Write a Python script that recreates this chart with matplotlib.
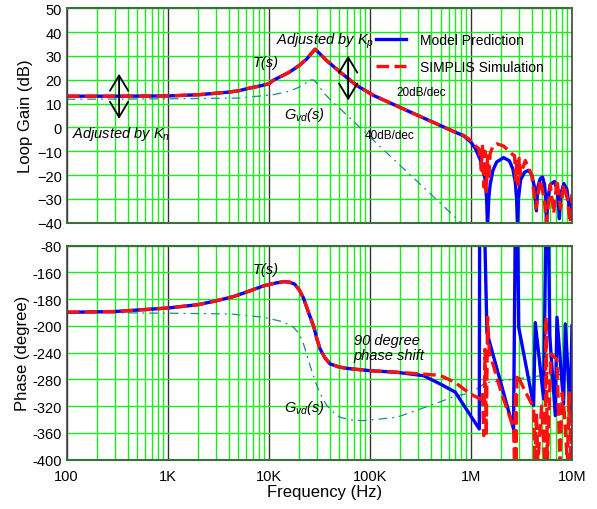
import numpy as np
import matplotlib
matplotlib.use("Agg")
import matplotlib.pyplot as plt
from matplotlib.ticker import LogLocator, FixedLocator, NullFormatter

plt.rcParams["font.family"] = ["Liberation Sans", "DejaVu Sans"]
plt.rcParams["mathtext.fontset"] = "custom"
plt.rcParams["mathtext.rm"] = "Liberation Sans"
plt.rcParams["mathtext.it"] = "Liberation Sans:italic"

# ---- loop gain magnitude (dB) ----
freq_model_mag = [100, 300, 1e3, 2e3, 4e3, 5.2e3, 6e3, 8e3, 1e4, 1.1e4, 1.6e4, 2.0e4,
                  2.38e4, 2.65e4, 2.87e4, 3.1e4, 3.75e4, 5.08e4, 7.4e4, 1.09e5, 2.32e5,
                  4.97e5, 7e5, 8.45e5, 1.0e6, 1.11e6, 1.25e6, 1.38e6, 1.43e6, 1.46e6,
                  1.5e6, 1.55e6, 1.65e6, 1.8e6, 2.1e6, 2.4e6, 2.6e6, 2.75e6, 2.83e6, 2.89e6,
                  2.95e6, 3.1e6, 3.4e6, 3.72e6, 4.0e6, 4.25e6, 4.44e6,
                  4.6e6, 4.85e6, 5.1e6, 5.35e6, 5.5e6, 5.6e6,
                  5.75e6, 6.1e6, 6.7e6, 7.1e6, 7.35e6, 7.5e6,
                  7.75e6, 8.3e6, 8.9e6, 9.3e6, 9.5e6, 9.8e6, 1e7]
mag_model = [13.1, 13.1, 13.2, 13.7, 14.8, 15.5, 16.2, 17.3, 18.3, 19.7, 23.2, 26.0,
             28.75, 31.2, 32.8, 31.5, 28.0, 23.2, 17.6, 13.4, 7.1,
             0.8, -2.0, -3.5, -6.2, -9.0, -14, -21.6, -30, -42,
             -30, -24, -18, -14.5, -12.7, -14, -17.5, -23, -30, -42,
             -30, -22, -18.8, -18, -20, -25, -35,
             -25, -21.5, -20.8, -24, -30, -42,
             -30, -24, -22.7, -26, -32, -38.3,
             -28, -23.6, -26, -32, -38, -32, -30.6]

freq_sim_mag = [100, 300, 1e3, 2e3, 4e3, 5.2e3, 6e3, 8e3, 1e4, 1.1e4, 1.6e4, 2.0e4,
                2.38e4, 2.65e4, 2.87e4, 3.1e4, 3.75e4, 5.08e4, 7.4e4, 1.09e5, 2.32e5,
                4.97e5, 7e5, 8.45e5, 1.0e6, 1.11e6, 1.2e6, 1.27e6, 1.3e6, 1.34e6, 1.38e6,
                1.42e6, 1.46e6, 1.5e6, 1.55e6, 1.65e6, 1.81e6, 2.1e6, 2.36e6, 2.6e6, 2.7e6,
                2.78e6, 2.85e6, 2.92e6, 3.0e6, 3.1e6, 3.45e6, 4.0e6, 4.4e6, 4.85e6, 5.3e6,
                5.6e6, 6.1e6, 6.6e6, 7.1e6, 7.7e6, 8.3e6, 9.0e6, 9.6e6, 1e7]
mag_sim = [13.1, 13.1, 13.2, 13.7, 14.8, 15.5, 16.2, 17.3, 18.3, 19.7, 23.2, 26.0,
           28.75, 31.2, 32.8, 31.5, 28.0, 23.2, 17.6, 13.4, 7.1,
           0.8, -2.0, -3.3, -5.5, -7.8, -9, -18, -7, -25, -10,
           -27, -12, -22, -11, -8, -6.9, -7.8, -9.7, -11.5, -11.8,
           -22, -13, -24, -13, -20, -13.9, -20, -34, -22, -30,
           -40, -24, -36, -22, -34, -24, -30, -40, -28]

freq_gvd_mag = [100, 1e3, 5e3, 1.1e4, 1.6e4, 2.0e4, 2.3e4, 2.6e4, 2.8e4, 3.0e4, 3.5e4,
                4.2e4, 5.08e4, 1e5, 2e5, 4e5, 8.45e5, 1e6]
mag_gvd = [11.8, 12.0, 12.3, 13.7, 15.2, 16.9, 18.5, 20.0, 19.8, 18.5, 14.5,
           11.0, 7.8, -4, -16, -28, -41, -44]

# ---- phase (plotted on the linear grid of the original axis) ----
freq_model_ph = [100, 300, 1e3, 2e3, 3e3, 4.5e3, 6.5e3, 8.9e3, 1.2e4, 1.4e4, 1.6e4, 1.8e4,
                 2.0e4, 2.2e4, 2.5e4, 2.77e4, 3.0e4, 3.22e4, 3.6e4, 4.05e4, 5e4, 5.9e4,
                 1e5, 1.85e5, 3.4e5, 4.97e5, 7e5, 8.45e5, 1.0e6,
                 1.21e6, 1.22e6, 1.36e6, 1.44e6, 2.64e6, 2.75e6, 2.89e6, 2.97e6, 4.17e6,
                 4.33e6, 5.24e6, 5.53e6, 5.83e6, 6.03e6, 6.84e6, 7.1e6, 8.26e6, 8.59e6,
                 9.62e6, 1e7]
ph_model = [-179.6, -178.5, -173.2, -168.2, -162.5, -156, -147.5, -140, -135.5, -133.8,
            -134.5, -137.5, -146, -158, -182, -200, -220, -234.5, -248, -256.9, -261.5,
            -263.4, -266.9, -269.3, -274.4, -286.8, -299, -318, -335,
            -354, -40, -40, -210, -354, -40, -40, -202, -319,
            -195, -309, -40, -40, -215, -334, -187, -317, -197,
            -332, -200]

freq_sim_ph = [100, 300, 1e3, 2e3, 3e3, 4.5e3, 6.5e3, 8.9e3, 1.2e4, 1.4e4, 1.6e4, 1.8e4,
               2.0e4, 2.2e4, 2.5e4, 2.77e4, 3.0e4, 3.22e4, 3.6e4, 4.05e4, 5e4, 5.9e4,
               1e5, 1.85e5, 3.4e5, 4.97e5, 7e5, 8.45e5, 1.0e6,
               1.26e6, 1.3e6, 1.34e6, 1.38e6, 1.42e6, 1.46e6, 1.52e6, 1.6e6, 2.0e6, 2.64e6,
               2.7e6, 2.76e6, 2.8e6, 2.85e6, 3.5e6, 4.17e6, 4.3e6, 4.45e6, 4.6e6, 5.0e6,
               5.4e6, 5.55e6, 5.7e6, 6.2e6, 7.1e6, 7.6e6, 8.0e6, 8.4e6, 9.0e6, 9.4e6,
               9.8e6, 1e7]
ph_sim = [-179.6, -178.5, -173.2, -168.2, -162.5, -156, -147.5, -140, -135.5, -133.8,
          -134.5, -137.5, -146, -158, -182, -200, -220, -234.5, -248, -256.9, -261.5,
          -263.4, -266.9, -269.3, -272, -274, -284.6, -294, -302,
          -310, -300, -364, -235, -364, -187, -240, -250, -300, -352,
          -405, -297, -405, -272, -300, -322, -405, -330, -405, -320,
          -405, -187, -405, -242, -250, -405, -300, -330, -405, -300,
          -405, -340]

freq_gvd_ph = [100, 1e3, 4.1e3, 8.9e3, 1.4e4, 1.76e4, 2.0e4, 2.18e4, 2.56e4, 2.98e4,
               3.4e4, 3.75e4, 4.4e4, 5.08e4, 6.5e4, 8.6e4, 1.85e5, 3.95e5, 7e5, 1e6,
               1.4e6, 2.9e6, 5.2e6, 1e7]
ph_gvd = [-179.6, -181, -182, -187, -194, -202, -212, -224.5, -259.4, -289,
          -308, -319, -330, -336.6, -340.5, -341.7, -336.6, -319, -305, -300,
          -285, -279, -274, -272]

decade_ticks = [1e2, 1e3, 1e4, 1e5, 1e6, 1e7]
decade_labels = ["100", "1K", "10K", "100K", "1M", "10M"]
gain_ticks = [50, 40, 30, 20, 10, 0, -10, -20, -30, -40]
phase_ticks = [-80, -120, -160, -200, -240, -280, -320, -360, -400]
phase_labels = ["-80", "-160", "-180", "-200", "-240", "-280", "-320", "-360", "-400"]

BLUE = "#0000ff"
RED = "#ff1010"
TEAL = "#1f8a8f"
GREEN = "#19ee19"

fig = plt.figure(figsize=(5.97, 5.10), dpi=100)
ax1 = fig.add_axes([0.1117, 0.5614, 0.8464, 0.4204])
ax2 = fig.add_axes([0.1117, 0.0967, 0.8464, 0.4196])


def style_axes(ax):
    ax.set_xscale("log")
    ax.set_xlim(1e2, 1e7)
    ax.set_axisbelow(True)
    ax.xaxis.set_major_locator(FixedLocator(decade_ticks))
    ax.xaxis.set_minor_locator(LogLocator(base=10, subs=np.arange(2, 10)))
    ax.xaxis.set_minor_formatter(NullFormatter())
    ax.grid(which="minor", axis="x", color=GREEN, lw=1.0)
    ax.grid(which="major", axis="y", color=GREEN, lw=1.0)
    ax.grid(which="major", axis="x", color="#333333", lw=1.0)
    ax.tick_params(which="both", length=0, labelsize=10.5, pad=3.5)
    ax.tick_params(axis="x", pad=7)
    for side in ("top", "bottom"):
        ax.spines[side].set_color("#3d6e3d")
        ax.spines[side].set_linewidth(1.5)
    for side in ("left", "right"):
        ax.spines[side].set_color("#444444")
        ax.spines[side].set_linewidth(1.2)


style_axes(ax1)
style_axes(ax2)

# ---- top: loop gain ----
ax1.plot(freq_gvd_mag, mag_gvd, color=TEAL, lw=0.9, dashes=(7, 4, 1.5, 4))
ax1.plot(freq_model_mag, mag_model, color=BLUE, lw=2.4, label="Model Prediction")
ax1.plot(freq_sim_mag, mag_sim, color=RED, lw=2.4, dashes=(3.8, 1.6), label="SIMPLIS Simulation")
ax1.set_ylim(-40, 50)
ax1.set_yticks(gain_ticks)
ax1.set_xticklabels([])
ax1.set_ylabel("Loop Gain (dB)", fontsize=12)
ax1.yaxis.set_label_coords(-0.066, 0.5)

arrow = dict(arrowstyle="<->,head_length=0.55,head_width=0.33", lw=1.3, color="black",
             mutation_scale=20, shrinkA=0, shrinkB=0)
ax1.annotate("", xy=(330, 22.5), xytext=(330, 3.6), arrowprops=arrow)
ax1.annotate("", xy=(6.1e4, 30.1), xytext=(6.1e4, 11.3), arrowprops=arrow)

ax1.text(112, -2.3, r"Adjusted by $K_n$", style="italic", fontsize=10.5, va="center")
ax1.text(3.6e4, 36.6, r"Adjusted by $K_p$", style="italic", fontsize=10.5, va="center",
         ha="center")
ax1.text(7e3, 27.4, "T(s)", style="italic", fontsize=10.5, va="center")
ax1.text(1.4e4, 5.7, r"$G_{vd}$(s)", style="italic", fontsize=10.5, va="center")
ax1.text(1.85e5, 14.8, "20dB/dec", fontsize=8.5, va="center")
ax1.text(8.8e4, -3.4, "40dB/dec", fontsize=8.5, va="center")

ax1.legend(loc="center left", bbox_to_anchor=(0.612, 0.7885), frameon=False,
           fontsize=10, handlelength=2.2, handletextpad=1.0, labelspacing=0.95,
           borderpad=0, borderaxespad=0)

# ---- bottom: phase ----
ax2.plot(freq_gvd_ph, ph_gvd, color=TEAL, lw=0.9, dashes=(7, 4, 1.5, 4))
ax2.plot(freq_model_ph, ph_model, color=BLUE, lw=2.4)
ax2.plot(freq_sim_ph, ph_sim, color=RED, lw=2.4, dashes=(3.8, 1.6))
ax2.set_ylim(-400, -80)
ax2.set_yticks(phase_ticks)
ax2.set_yticklabels(phase_labels)
ax2.set_xticklabels(decade_labels)
ax2.set_ylabel("Phase (degree)", fontsize=12)
ax2.yaxis.set_label_coords(-0.072, 0.5)
ax2.set_xlabel("Frequency (Hz)", fontsize=12)
ax2.xaxis.set_label_coords(0.511, -0.112)

ax2.text(7e3, -114.8, "T(s)", style="italic", fontsize=10.5, va="center")
ax2.text(1.4e4, -321.7, r"$G_{vd}$(s)", style="italic", fontsize=10.5, va="center")
ax2.text(6.9e4, -232, "90 degree\nphase shift", style="italic", fontsize=10.5,
         va="center", linespacing=1.1)

fig.savefig("out.png", dpi=100)
